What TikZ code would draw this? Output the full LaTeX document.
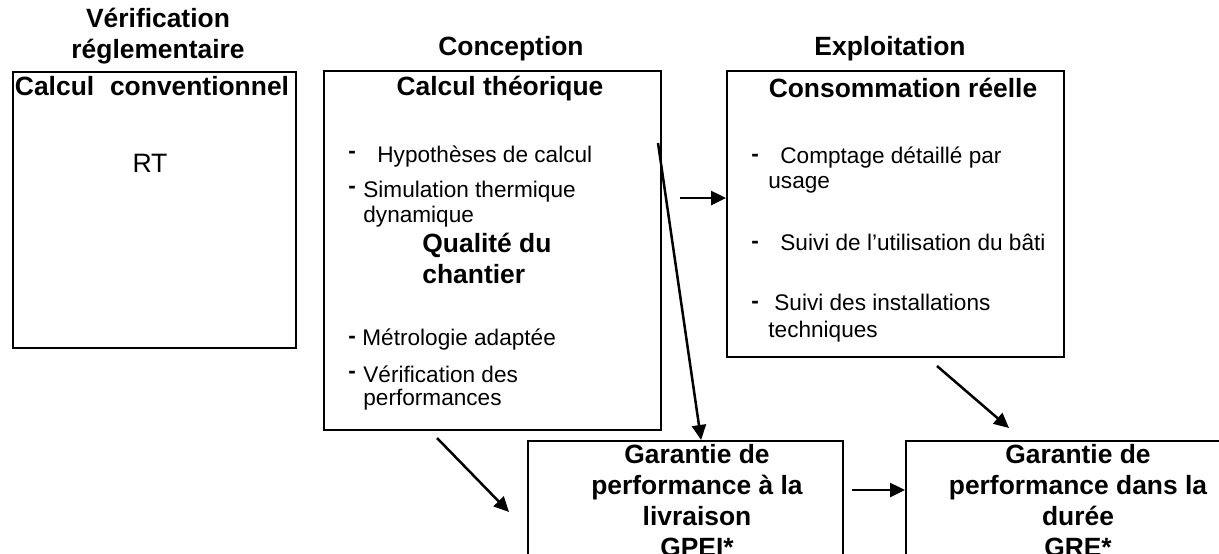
\documentclass[tikz,border=0pt]{standalone}
\usepackage{fontspec}
\setmainfont{Liberation Sans}
\usetikzlibrary{arrows.meta}
\usetikzlibrary{positioning}

\tikzset{
  box/.style={draw, line width=1.1pt, anchor=north west, inner sep=0pt},
  title/.style={font=\bfseries\fontsize{13.2}{15.5}\selectfont, align=center, inner sep=0pt, anchor=base},
  txt/.style={font=\fontsize{11.3}{12.5}\selectfont, align=left, inner sep=0pt, anchor=base west},
  dashmark/.style={font=\bfseries\fontsize{11.3}{12.5}\selectfont, inner sep=0pt, anchor=base west},
  arr/.style={-{Triangle[length=7.5pt,width=7pt]}, line width=1.25pt},
}

\begin{document}
\begin{tikzpicture}[x=0.5pt, y=-0.5pt]
          \clip (0,0) rectangle (1219,553);

          % boxes
          \node (conv) [box, minimum width=141.5pt, minimum height=138pt] at (12,71) {};
          \node (conc) [box, minimum width=168.5pt, minimum height=179.5pt] at (323,70) {};
          \node (conso) [box, minimum width=168.5pt, minimum height=143pt] at (726,70) {};
          \node (gpei) [box, minimum width=157.5pt, minimum height=100pt] at (527,440) {};
          \node (gre) [box, minimum width=170pt, minimum height=100pt] at (905,440) {};

          % column headings (multi-line nodes sit on their last baseline)
          \node (hverif) [title] at (158,58) {Vérification\\réglementaire};
          \node (hconc) [title] at (511,55) {Conception};
          \node (hexpl) [title] at (890,55) {Exploitation};

          % left box
          \node (tconv) [title] at (152,95) {Calcul\hspace{0.6em}conventionnel};
          \node (rt) [txt, anchor=base, font=\fontsize{13.3}{15}\selectfont] at (150,172) {RT};

          % middle box
          \node (tconc) [title] at (500,95) {Calcul théorique};
          \node (d1) [dashmark] at (348,158) {-};
          \node (hyp) [txt] at (377,162) {Hypothèses de calcul};
          \node (d2) [dashmark] at (348,193) {-};
          \node (sim) [txt] at (363,222) {Simulation thermique\\dynamique};
          \node (qual) [title, anchor=base west, align=left] at (422,283) {Qualité du\\chantier};
          \node (d3) [dashmark] at (348,343) {-};
          \node (metro) [txt] at (362,345) {Métrologie adaptée};
          \node (d4) [dashmark] at (348,378) {-};
          \node (verif) [txt] at (363,405) {Vérification des\\[-1pt]performances};

          % right box
          \node (tconso) [title] at (903,97) {Consommation réelle};
          \node (d5) [dashmark] at (751,161) {-};
          \node (compt) [txt] at (768,188) {\hspace{6pt}Comptage détaillé par\\usage};
          \node (d6) [dashmark] at (751,248) {-};
          \node (bati) [txt] at (780,250) {Suivi de l’utilisation du bâti};
          \node (d7) [dashmark] at (751,308) {-};
          \node (inst) [txt] at (768,337) {\hspace{3pt}Suivi des installations\\[1pt]techniques};

          % bottom boxes
          \node (tgpei) [title] at (697,556) {Garantie de\\performance à la\\livraison\\GPEI*};
          \node (tgre) [title] at (1078,556) {Garantie de\\performance dans la\\durée\\GRE*};

          % arrows
          \coordinate (s1) at (658,143);
          \coordinate (s2) at (680,198);
          \coordinate (s3) at (437,438);
          \coordinate (e3) at (509,512);
          \coordinate (s4) at (852,490);
          \coordinate (s5) at (937,366);
          \coordinate (e5) at (1009,428);
          \draw[arr] (s1) -- ([xshift=7.75pt]gpei.north);
          \draw[arr] (s2) -- (s2 -| conso.west);
          \draw[arr] (s3) -- (e3);
          \draw[arr] (s4) -- (s4 -| gre.west);
          \draw[arr] (s5) -- (e5);
        \end{tikzpicture}
\end{document}
